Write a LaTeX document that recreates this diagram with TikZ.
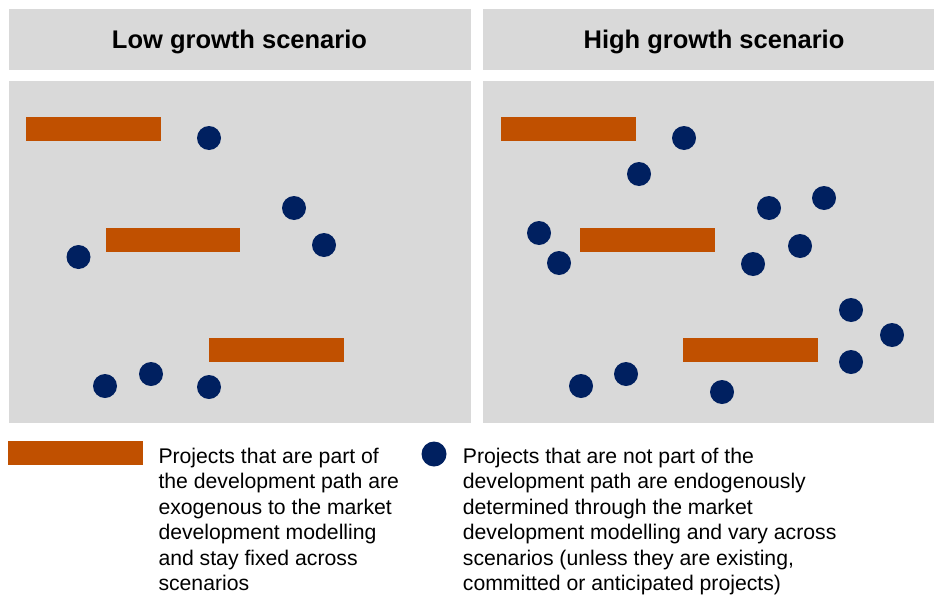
\documentclass[tikz,border=0pt]{standalone}
\usepackage{fontspec}
\setmainfont{Liberation Sans}
\definecolor{panelgray}{RGB}{217,217,217}
\definecolor{barorange}{RGB}{192,80,0}
\definecolor{dotnavy}{RGB}{0,32,96}
\begin{document}
\begin{tikzpicture}[x=1pt,y=-1pt,
  panel/.style={fill=panelgray},
  bar/.style={fill=barorange},
  dot/.style={fill=dotnavy},
  hdr/.style={font=\fontsize{25.5}{30}\selectfont\bfseries, anchor=base, inner sep=0pt},
  legtext/.style={font=\fontsize{21.2}{25.5}\selectfont, align=left, anchor=north west, inner sep=0pt}]
\useasboundingbox (0,0) rectangle (934,597);
\fill[white] (0,0) rectangle (934,597);
% header boxes
\fill[panel] (9,9) rectangle (470.5,70);
\fill[panel] (483,9) rectangle (934,70);
\node[hdr] (hlow) at (239.5,48) {Low growth scenario};
\node[hdr] (hhigh) at (714,48) {High growth scenario};
% panels
\fill[panel] (8.5,81) rectangle (470.5,422.5);
\fill[panel] (483,81) rectangle (934,422.5);
% bars, left
\fill[bar] (26,117) rectangle (161,141);
\fill[bar] (106,228) rectangle (240,252);
\fill[bar] (209,338) rectangle (344,362);
% bars, right
\fill[bar] (501,117) rectangle (636,141);
\fill[bar] (580,228) rectangle (715,252);
\fill[bar] (683,338) rectangle (818,362);
% dots, left
\foreach \p in {(209,138),(294,208),(324,245),(78.5,257),(105,386),(151,374),(209,387)}
  \fill[dot] \p circle[radius=12];
% dots, right
\foreach \p in {(684,138),(639,174),(769,208),(824,198),(539,233),(559,263),(800,246),(753,264),(851,310),(892,335),(851,362),(581,386),(626,374),(722,392)}
  \fill[dot] \p circle[radius=12];
% legend
\fill[bar] (8,441) rectangle (143,465);
\node[legtext] (leg1) at (158.3,447.8) {Projects that are part of\\the development path are\\exogenous to the market\\development modelling\\and stay fixed across\\scenarios};
\fill[dot] (434,454) circle[radius=12.5];
\node[legtext] (leg2) at (462.7,447.8) {Projects that are not part of the\\development path are endogenously\\determined through the market\\development modelling and vary across\\scenarios (unless they are existing,\\committed or anticipated projects)};
\end{tikzpicture}
\end{document}
